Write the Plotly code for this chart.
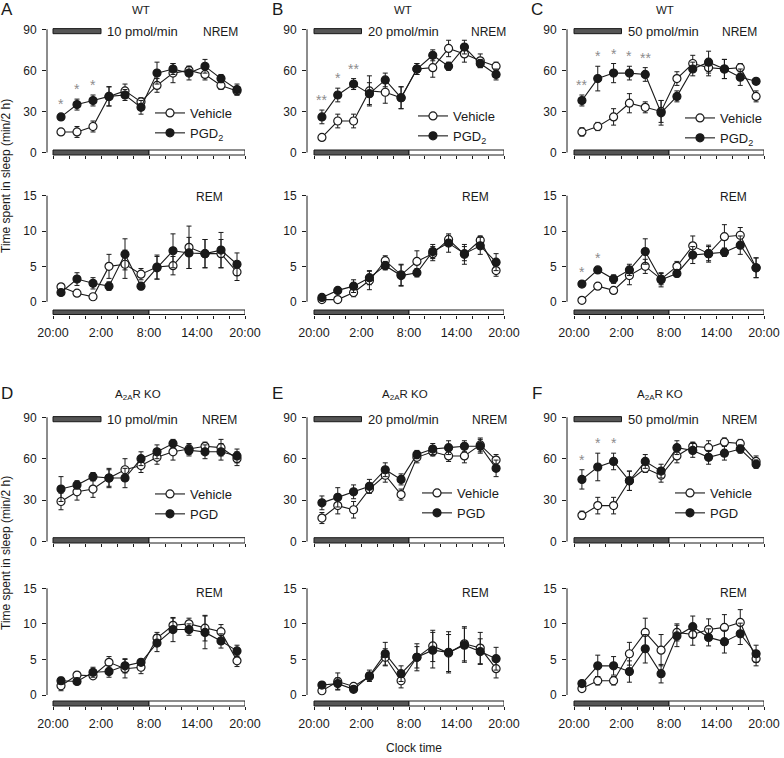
import plotly.graph_objects as go

W, H = 784, 758
FONT = "Liberation Sans, Arial, Helvetica, sans-serif"
INK = "#1a1a1a"
STAR = "#8c8c8c"
DARK_FILL = "#555555"

# ---------------- time axis (hours after 20:00) ----------------
bin_centres = [1, 3, 5, 7, 9, 11, 13, 15, 17, 19, 21, 23]
tick_hours = [0, 2, 4, 6, 8, 10, 12, 14, 16, 18, 20, 22, 24]
label_hours = [0, 6, 12, 18, 24]
clock_labels = ["20:00", "2:00", "8:00", "14:00", "20:00"]
dark_phase = [0, 12]
light_phase = [12, 24]
infusion_hours = [0, 6]
nrem_ticks = [0, 30, 60, 90]
rem_ticks = [0, 5, 10, 15]

panel_ids = ["A", "B", "C", "D", "E", "F"]
genotypes = ["WT", "WT", "WT", "A<sub>2A</sub>R KO", "A<sub>2A</sub>R KO", "A<sub>2A</sub>R KO"]
doses = ["10 pmol/min", "20 pmol/min", "50 pmol/min", "10 pmol/min", "20 pmol/min", "50 pmol/min"]
drug_names = ["PGD<sub>2</sub>", "PGD<sub>2</sub>", "PGD<sub>2</sub>", "PGD", "PGD", "PGD"]

# ---------------- data (min / 2 h), mean and SEM ----------------
# A  WT 10 pmol/min
a_nrem_vehicle = [15, 15, 19, 41, 45, 37, 49, 58, 60, 57, 49, 45]
a_nrem_vehicle_sem = [2, 4, 4, 7, 5, 3, 5, 7, 3, 4, 3, 3]
a_nrem_pgd = [26, 35, 38, 41, 42, 33, 58, 61, 58, 63, 54, 46]
a_nrem_pgd_sem = [2, 4, 4, 7, 4, 5, 8, 4, 5, 5, 3, 4]
a_nrem_stars = ["*", "*", "*", "", "", "", "", "", "", "", "", ""]
a_rem_vehicle = [2.1, 1.2, 0.7, 5.0, 5.3, 3.9, 4.9, 5.1, 7.7, 6.8, 6.8, 4.2]
a_rem_vehicle_sem = [0.3, 0.3, 0.3, 1.7, 2.0, 0.8, 1.7, 1.3, 3.0, 2.0, 2.0, 1.2]
a_rem_pgd = [1.3, 3.2, 2.6, 2.2, 6.7, 2.2, 4.8, 7.2, 6.9, 6.8, 7.3, 5.3]
a_rem_pgd_sem = [0.4, 0.9, 0.8, 0.6, 2.2, 0.5, 1.6, 2.4, 2.2, 2.0, 2.5, 1.6]
a_rem_stars = [""] * 12

# B  WT 20 pmol/min
b_nrem_vehicle = [11, 23, 23, 45, 44, 40, 61, 62, 76, 72, 67, 63]
b_nrem_vehicle_sem = [2, 5, 5, 11, 8, 8, 4, 7, 6, 6, 5, 3]
b_nrem_pgd = [26, 42, 50, 43, 53, 40, 61, 71, 63, 77, 65, 57]
b_nrem_pgd_sem = [5, 5, 4, 8, 5, 8, 4, 4, 3, 5, 3, 4]
b_nrem_stars = ["**", "*", "**", "", "", "", "", "", "", "", "", ""]
b_rem_vehicle = [0.3, 0.3, 1.3, 3.0, 5.8, 3.8, 5.7, 6.8, 8.8, 6.7, 8.7, 4.4]
b_rem_vehicle_sem = [0.2, 0.3, 0.6, 1.3, 0.7, 1.5, 1.5, 1.0, 0.6, 1.4, 0.6, 0.8]
b_rem_pgd = [0.6, 1.6, 2.2, 3.4, 5.1, 3.7, 4.1, 7.1, 8.3, 6.8, 7.9, 5.6]
b_rem_pgd_sem = [0.3, 0.3, 0.9, 1.0, 0.6, 1.5, 0.6, 1.0, 1.3, 1.0, 1.2, 1.2]
b_rem_stars = [""] * 12

# C  WT 50 pmol/min
c_nrem_vehicle = [15, 19, 26, 36, 33, 30, 54, 65, 62, 61, 62, 41]
c_nrem_vehicle_sem = [3, 3, 6, 7, 4, 8, 5, 6, 6, 7, 3, 4]
c_nrem_pgd = [38, 54, 58, 58, 57, 29, 41, 61, 66, 61, 55, 52]
c_nrem_pgd_sem = [4, 9, 7, 5, 5, 9, 4, 5, 8, 7, 6, 2]
c_nrem_stars = ["**", "*", "*", "*", "**", "", "", "", "", "", "", ""]
c_rem_vehicle = [0.2, 2.2, 1.6, 3.7, 5.0, 3.2, 5.0, 7.9, 6.8, 9.2, 9.4, 4.8]
c_rem_vehicle_sem = [0.1, 0.3, 0.4, 1.3, 1.0, 0.8, 0.7, 1.4, 1.2, 1.7, 1.1, 1.4]
c_rem_pgd = [2.5, 4.5, 3.2, 4.5, 7.1, 3.1, 4.0, 6.6, 6.8, 7.0, 8.0, 4.8]
c_rem_pgd_sem = [0.3, 0.3, 0.6, 0.8, 1.8, 1.0, 0.5, 1.2, 1.0, 0.6, 1.3, 1.4]
c_rem_stars = ["*", "*", "", "", "", "", "", "", "", "", "", ""]

# D  A2AR KO 10 pmol/min
d_nrem_vehicle = [29, 36, 38, 46, 52, 55, 61, 65, 67, 69, 68, 60]
d_nrem_vehicle_sem = [6, 6, 6, 6, 8, 5, 5, 6, 4, 3, 6, 5]
d_nrem_pgd = [38, 41, 47, 46, 46, 60, 65, 71, 66, 65, 65, 62]
d_nrem_pgd_sem = [9, 3, 3, 7, 7, 5, 5, 3, 4, 5, 6, 5]
d_nrem_stars = [""] * 12
d_rem_vehicle = [1.3, 2.8, 2.7, 4.6, 3.7, 3.9, 8.0, 9.8, 10.0, 9.4, 8.9, 4.8]
d_rem_vehicle_sem = [0.7, 0.3, 0.4, 0.8, 1.3, 0.9, 0.8, 1.0, 0.8, 1.8, 1.0, 0.8]
d_rem_pgd = [2.0, 1.9, 3.2, 3.3, 4.1, 4.6, 7.3, 9.2, 9.2, 8.8, 7.6, 6.2]
d_rem_pgd_sem = [0.5, 0.3, 0.7, 0.8, 1.0, 0.4, 1.2, 1.7, 0.8, 2.3, 1.0, 0.8]
d_rem_stars = [""] * 12

# E  A2AR KO 20 pmol/min
e_nrem_vehicle = [17, 26, 23, 38, 48, 34, 61, 65, 62, 62, 70, 59]
e_nrem_vehicle_sem = [4, 6, 6, 3, 5, 4, 4, 3, 4, 5, 5, 4]
e_nrem_pgd = [28, 32, 36, 40, 52, 45, 63, 67, 68, 69, 69, 53]
e_nrem_pgd_sem = [5, 7, 5, 5, 5, 4, 3, 4, 5, 4, 5, 6]
e_nrem_stars = [""] * 12
e_rem_vehicle = [0.6, 1.9, 1.2, 2.6, 5.3, 2.0, 5.3, 6.9, 5.9, 7.2, 6.6, 3.7]
e_rem_vehicle_sem = [0.2, 1.2, 0.3, 0.5, 1.2, 1.0, 1.5, 2.2, 2.6, 2.4, 2.2, 1.3]
e_rem_pgd = [1.4, 1.6, 0.8, 2.7, 5.8, 3.0, 5.3, 6.3, 6.0, 7.0, 6.1, 5.1]
e_rem_pgd_sem = [0.3, 0.8, 0.2, 0.8, 1.6, 1.1, 1.9, 2.5, 2.9, 2.4, 1.8, 1.6]
e_rem_stars = [""] * 12

# F  A2AR KO 50 pmol/min
f_nrem_vehicle = [19, 26, 26, 44, 53, 48, 62, 69, 68, 72, 71, 58]
f_nrem_vehicle_sem = [3, 6, 6, 7, 3, 5, 5, 3, 5, 3, 3, 4]
f_nrem_pgd = [45, 54, 58, 44, 58, 51, 68, 66, 61, 64, 67, 56]
f_nrem_pgd_sem = [7, 10, 6, 7, 5, 5, 5, 5, 5, 5, 3, 3]
f_nrem_stars = ["*", "*", "*", "", "", "", "", "", "", "", "", ""]
f_rem_vehicle = [0.9, 2.0, 2.0, 5.8, 8.8, 6.3, 8.8, 8.5, 9.2, 9.5, 10.2, 5.1]
f_rem_vehicle_sem = [0.2, 0.6, 0.6, 1.6, 2.0, 2.2, 1.2, 1.5, 1.5, 1.8, 1.8, 1.0]
f_rem_pgd = [1.6, 4.1, 4.1, 3.3, 6.5, 3.0, 8.3, 9.6, 8.1, 7.5, 8.6, 5.8]
f_rem_pgd_sem = [0.3, 1.5, 1.3, 1.5, 2.0, 1.3, 1.5, 1.5, 1.2, 1.6, 1.5, 1.2]
f_rem_stars = [""] * 12

panel_data = {
    "A": {"NREM": (a_nrem_vehicle, a_nrem_vehicle_sem, a_nrem_pgd, a_nrem_pgd_sem, a_nrem_stars),
          "REM": (a_rem_vehicle, a_rem_vehicle_sem, a_rem_pgd, a_rem_pgd_sem, a_rem_stars)},
    "B": {"NREM": (b_nrem_vehicle, b_nrem_vehicle_sem, b_nrem_pgd, b_nrem_pgd_sem, b_nrem_stars),
          "REM": (b_rem_vehicle, b_rem_vehicle_sem, b_rem_pgd, b_rem_pgd_sem, b_rem_stars)},
    "C": {"NREM": (c_nrem_vehicle, c_nrem_vehicle_sem, c_nrem_pgd, c_nrem_pgd_sem, c_nrem_stars),
          "REM": (c_rem_vehicle, c_rem_vehicle_sem, c_rem_pgd, c_rem_pgd_sem, c_rem_stars)},
    "D": {"NREM": (d_nrem_vehicle, d_nrem_vehicle_sem, d_nrem_pgd, d_nrem_pgd_sem, d_nrem_stars),
          "REM": (d_rem_vehicle, d_rem_vehicle_sem, d_rem_pgd, d_rem_pgd_sem, d_rem_stars)},
    "E": {"NREM": (e_nrem_vehicle, e_nrem_vehicle_sem, e_nrem_pgd, e_nrem_pgd_sem, e_nrem_stars),
          "REM": (e_rem_vehicle, e_rem_vehicle_sem, e_rem_pgd, e_rem_pgd_sem, e_rem_stars)},
    "F": {"NREM": (f_nrem_vehicle, f_nrem_vehicle_sem, f_nrem_pgd, f_nrem_pgd_sem, f_nrem_stars),
          "REM": (f_rem_vehicle, f_rem_vehicle_sem, f_rem_pgd, f_rem_pgd_sem, f_rem_stars)},
}

# ---------------- geometry (pixels) ----------------
col_geom = [(47, 53, 245), (307, 314, 504), (567, 574, 764)]  # y-axis x, bar left, bar right
row_geom = {
    ("NREM", 0): dict(top=29.3, zero=152.5, bar_top=150, bar_bot=155, dom_top=22, vmax=90),
    ("REM", 0): dict(top=195.7, zero=301.7, bar_top=310, bar_bot=314.5, dom_top=188, vmax=15),
    ("NREM", 1): dict(top=417.3, zero=541.5, bar_top=537.7, bar_bot=543, dom_top=410, vmax=90),
    ("REM", 1): dict(top=588.3, zero=695, bar_top=701, bar_bot=706, dom_top=581, vmax=15),
}
letter_pos = {"A": (7, 10), "B": (277, 10), "C": (537, 10), "D": (7, 393), "E": (277, 393), "F": (537, 393)}
title_pos = {"A": (141, 10), "B": (403, 10), "C": (665, 10), "D": (138, 395), "E": (405, 395), "F": (660, 395)}
nrem_lab = {"A": (240, 32), "B": (508, 32), "C": (759, 32), "D": (239, 420), "E": (509, 420), "F": (759, 420)}
rem_lab = {"A": (225, 197), "B": (491, 197), "C": (749, 197), "D": (225, 593), "E": (491, 593), "F": (749, 593)}
# legend box top-left corner (pixels)
legend_pos = {"A": (150, 98), "B": (413, 101), "C": (680, 103), "D": (150, 479), "E": (417, 478), "F": (670, 478)}
dose_bar_y = [86.8, 90.5]


def px_x(p):
    return p / W


def px_y(p):
    return 1 - p / H


fig = go.Figure()
layout = {}
shapes = []
annotations = []

k = 0
for i, pid in enumerate(panel_ids):
    col, row = i % 3, i // 3
    axis_px, bar_l, bar_r = col_geom[col]
    pxh = (bar_r - bar_l) / 24.0
    xrange = [-(bar_l - axis_px) / pxh, 24]
    xdom = [px_x(axis_px), px_x(bar_r)]
    leg_id = "legend" if i == 0 else f"legend{i + 1}"

    for state in ("NREM", "REM"):
        k += 1
        g = row_geom[(state, row)]
        ppu = (g["zero"] - g["top"]) / g["vmax"]
        yrange = [-(g["bar_bot"] - g["zero"]) / ppu, g["vmax"] + (g["top"] - g["dom_top"]) / ppu]
        ydom = [px_y(g["bar_bot"]), px_y(g["dom_top"])]
        bar_frac = (g["bar_bot"] - g["bar_top"]) / (g["bar_bot"] - g["dom_top"])
        xa = "x" if k == 1 else f"x{k}"
        ya = "y" if k == 1 else f"y{k}"
        xkey = "xaxis" if k == 1 else f"xaxis{k}"
        ykey = "yaxis" if k == 1 else f"yaxis{k}"

        veh, veh_sem, pgd, pgd_sem, stars = panel_data[pid][state]
        is_nrem = state == "NREM"

        fig.add_trace(go.Scatter(
            x=bin_centres, y=veh, mode="lines+markers", name="Vehicle",
            xaxis=xa, yaxis=ya, legend=leg_id, showlegend=is_nrem,
            line=dict(color=INK, width=1.1),
            marker=dict(symbol="circle", size=8, color="white", line=dict(color=INK, width=1.2)),
            error_y=dict(type="data", array=veh_sem, color=INK, thickness=1, width=2.5),
        ))
        fig.add_trace(go.Scatter(
            x=bin_centres, y=pgd, mode="lines+markers", name=drug_names[i],
            xaxis=xa, yaxis=ya, legend=leg_id, showlegend=is_nrem,
            line=dict(color=INK, width=1.1),
            marker=dict(symbol="circle", size=8, color=INK, line=dict(color=INK, width=1.2)),
            error_y=dict(type="data", array=pgd_sem, color=INK, thickness=1, width=2.5),
        ))

        layout[xkey] = dict(
            domain=xdom, range=xrange, anchor=ya, showline=False, showgrid=False, zeroline=False,
            automargin=False,
            tickmode="array", tickvals=label_hours, ticktext=clock_labels,
            showticklabels=not is_nrem, ticks="outside", ticklen=3, tickwidth=1, tickcolor=INK,
            minor=dict(tickmode="array", tickvals=tick_hours, ticks="outside", ticklen=3,
                       tickwidth=1, tickcolor=INK, showgrid=False),
            tickfont=dict(size=12.5, color=INK, family=FONT), ticklabelstandoff=3,
        )
        layout[ykey] = dict(
            domain=ydom, range=yrange, anchor=xa, showline=False, showgrid=False, zeroline=False,
            automargin=False,
            tickmode="array", tickvals=nrem_ticks if is_nrem else rem_ticks,
            ticks="outside", ticklen=4, tickwidth=1, tickcolor=INK,
            tickfont=dict(size=12, color=INK, family=FONT), ticklabelstandoff=3,
        )

        # y-axis spine from 0 to top tick
        top_tick = (nrem_ticks if is_nrem else rem_ticks)[-1]
        shapes.append(dict(type="line", xref=f"{xa} domain", yref=ya, x0=0, x1=0, y0=0, y1=top_tick,
                           line=dict(color=INK, width=1)))
        # light/dark bar
        shapes.append(dict(type="rect", xref=xa, yref=f"{ya} domain", x0=dark_phase[0], x1=dark_phase[1],
                           y0=0, y1=bar_frac, fillcolor=DARK_FILL, line=dict(color=INK, width=1)))
        shapes.append(dict(type="rect", xref=xa, yref=f"{ya} domain", x0=light_phase[0], x1=light_phase[1],
                           y0=0, y1=bar_frac, fillcolor="white", line=dict(color=INK, width=1)))

        # significance stars
        for xc, v, s, st in zip(bin_centres, pgd, pgd_sem, stars):
            if st:
                annotations.append(dict(xref=xa, yref=ya, x=xc, y=v + s, text=st, showarrow=False,
                                        yanchor="bottom", xanchor="center",
                                        font=dict(size=14, color=STAR, family=FONT)))

        if is_nrem:
            # infusion bar + dose label
            shapes.append(dict(type="rect", xref=xa, yref=ya, x0=infusion_hours[0], x1=infusion_hours[1],
                               y0=dose_bar_y[0], y1=dose_bar_y[1], fillcolor=DARK_FILL,
                               line=dict(color=INK, width=1)))
            annotations.append(dict(xref=xa, yref=ya, x=infusion_hours[1], y=sum(dose_bar_y) / 2,
                                    text=doses[i], showarrow=False, xanchor="left", yanchor="middle",
                                    xshift=4, font=dict(size=13, color=INK, family=FONT)))
            lx, ly = nrem_lab[pid]
            annotations.append(dict(xref="paper", yref="paper", x=px_x(lx), y=px_y(ly), text="NREM",
                                    showarrow=False, xanchor="right", yanchor="middle",
                                    font=dict(size=12, color=INK, family=FONT)))
        else:
            lx, ly = rem_lab[pid]
            annotations.append(dict(xref="paper", yref="paper", x=px_x(lx), y=px_y(ly), text="REM",
                                    showarrow=False, xanchor="right", yanchor="middle",
                                    font=dict(size=12, color=INK, family=FONT)))

    # panel letter and genotype
    lx, ly = letter_pos[pid]
    annotations.append(dict(xref="paper", yref="paper", x=px_x(lx), y=px_y(ly), text=pid, showarrow=False,
                            xanchor="center", yanchor="middle", font=dict(size=17, color=INK, family=FONT)))
    tx, ty = title_pos[pid]
    annotations.append(dict(xref="paper", yref="paper", x=px_x(tx), y=px_y(ty), text=genotypes[i],
                            showarrow=False, xanchor="center", yanchor="middle",
                            font=dict(size=11.5, color=INK, family=FONT)))
    # legend
    gx, gy = legend_pos[pid]
    layout[leg_id] = dict(x=px_x(gx), y=px_y(gy), xanchor="left", yanchor="top",
                          bgcolor="rgba(0,0,0,0)", borderwidth=0, tracegroupgap=0, itemwidth=30,
                          font=dict(size=13, color=INK, family=FONT))

# common axis titles
for yc in (176, 553):
    annotations.append(dict(xref="paper", yref="paper", x=px_x(6), y=px_y(yc),
                            text="Time spent in sleep (min/2 h)", textangle=-90, showarrow=False,
                            xanchor="center", yanchor="middle", font=dict(size=12, color=INK, family=FONT)))
annotations.append(dict(xref="paper", yref="paper", x=px_x(414), y=px_y(748), text="Clock time",
                        showarrow=False, xanchor="center", yanchor="middle",
                        font=dict(size=12, color=INK, family=FONT)))

fig.update_layout(
    width=W, height=H, margin=dict(l=0, r=0, t=0, b=0, pad=0, autoexpand=False),
    paper_bgcolor="white", plot_bgcolor="rgba(0,0,0,0)",
    font=dict(family=FONT, color=INK, size=12),
    hovermode=False,
    shapes=shapes, annotations=annotations, **layout,
)

fig.write_html("out.html", config={"displayModeBar": False, "staticPlot": True},
               post_script="document.body.style.margin='0px';")
